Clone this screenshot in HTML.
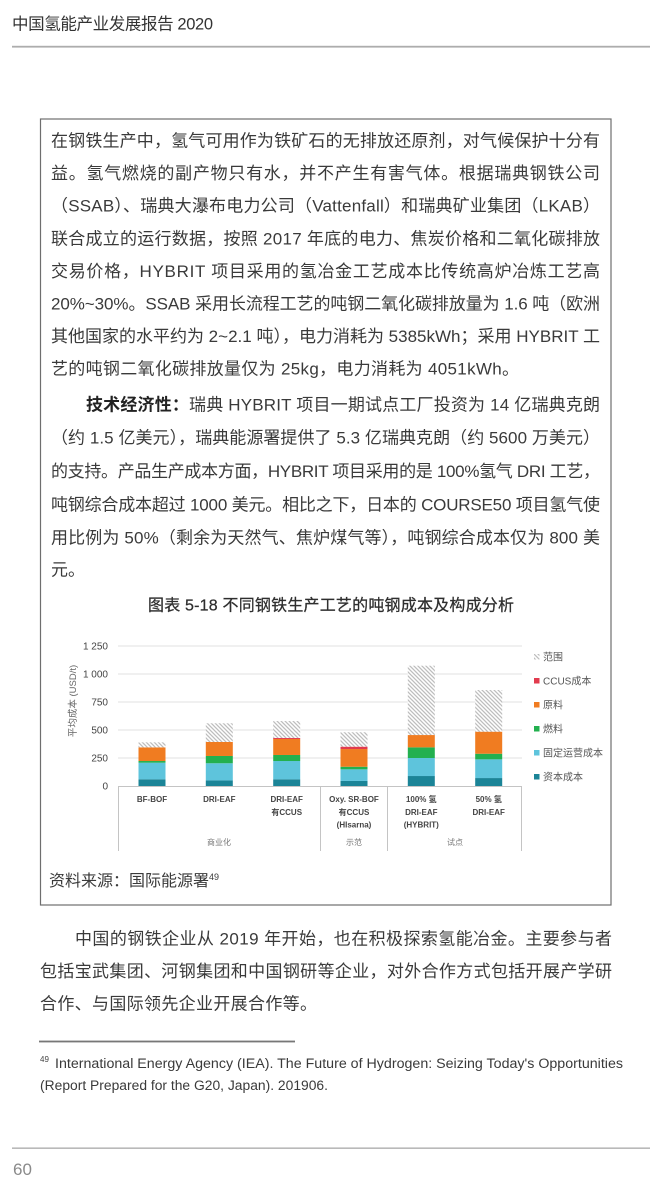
<!DOCTYPE html>
<html>
<head>
<meta charset="utf-8">
<style>
html,body{margin:0;padding:0;background:#fff;}
svg{display:block;}
.t{font-family:"Liberation Sans","Noto Sans CJK SC",sans-serif;font-size:17px;fill:#3a3a3a;}
.c{font-family:"Liberation Sans","Noto Sans CJK SC",sans-serif;}
</style>
</head>
<body>
<svg width="650" height="1190" viewBox="0 0 650 1190" xmlns="http://www.w3.org/2000/svg">
<defs>
<pattern id="h" patternUnits="userSpaceOnUse" width="4" height="4">
<rect width="4" height="4" fill="#fff"/>
<path d="M-1,-1 L5,5 M-1,3 L1,5 M3,-1 L5,1" stroke="#bdbdbd" stroke-width="1.3"/>
</pattern>
</defs>

<!-- header -->
<text class="c" x="12" y="29.5" font-size="16.5" fill="#333" textLength="201" lengthAdjust="spacing">中国氢能产业发展报告 2020</text>
<rect x="12" y="45.8" width="638" height="1.8" fill="#adadad"/>

<!-- box -->
<rect x="40.5" y="119" width="570.5" height="786" fill="none" stroke="#6e6e6e" stroke-width="1.2"/>

<!-- paragraph 1 -->
<text class="t" x="51" y="146.5" textLength="549" lengthAdjust="spacing">在钢铁生产中，氢气可用作为铁矿石的无排放还原剂，对气候保护十分有</text>
<text class="t" x="51" y="179.1" textLength="549" lengthAdjust="spacing">益。氢气燃烧的副产物只有水，并不产生有害气体。根据瑞典钢铁公司</text>
<text class="t" x="51" y="211.7" textLength="549" lengthAdjust="spacing">（SSAB）、瑞典大瀑布电力公司（Vattenfall）和瑞典矿业集团（LKAB）</text>
<text class="t" x="51" y="244.3" textLength="549" lengthAdjust="spacing">联合成立的运行数据，按照 2017 年底的电力、焦炭价格和二氧化碳排放</text>
<text class="t" x="51" y="276.9" textLength="549" lengthAdjust="spacing">交易价格，HYBRIT 项目采用的氢冶金工艺成本比传统高炉冶炼工艺高</text>
<text class="t" x="51" y="309.5" textLength="549" lengthAdjust="spacing">20%~30%。SSAB 采用长流程工艺的吨钢二氧化碳排放量为 1.6 吨（欧洲</text>
<text class="t" x="51" y="342.1" textLength="549" lengthAdjust="spacing">其他国家的水平约为 2~2.1 吨），电力消耗为 5385kWh；采用 HYBRIT 工</text>
<text class="t" x="51" y="374.7" textLength="468" lengthAdjust="spacing">艺的吨钢二氧化碳排放量仅为 25kg，电力消耗为 4051kWh。</text>

<!-- paragraph 2 -->
<text class="t" x="86" y="410.5" textLength="514" lengthAdjust="spacing"><tspan font-weight="bold" fill="#222">技术经济性：</tspan>瑞典 HYBRIT 项目一期试点工厂投资为 14 亿瑞典克朗</text>
<text class="t" x="51" y="443.5" textLength="549" lengthAdjust="spacing">（约 1.5 亿美元），瑞典能源署提供了 5.3 亿瑞典克朗（约 5600 万美元）</text>
<text class="t" x="51" y="477" textLength="549" lengthAdjust="spacing">的支持。产品生产成本方面，HYBRIT 项目采用的是 100%氢气 DRI 工艺，</text>
<text class="t" x="51" y="510.5" textLength="549" lengthAdjust="spacing">吨钢综合成本超过 1000 美元。相比之下，日本的 COURSE50 项目氢气使</text>
<text class="t" x="51" y="543.5" textLength="549" lengthAdjust="spacing">用比例为 50%（剩余为天然气、焦炉煤气等），吨钢综合成本仅为 800 美</text>
<text class="t" x="51" y="575.5">元。</text>

<!-- chart title -->
<text class="c" x="331" y="610.5" font-size="16" fill="#2e2e2e" text-anchor="middle" stroke="#2e2e2e" stroke-width="0.25" textLength="366" lengthAdjust="spacing">图表 5-18  不同钢铁生产工艺的吨钢成本及构成分析</text>

<!-- chart gridlines -->
<g stroke="#e2e2e2" stroke-width="1">
<line x1="118" y1="646" x2="522" y2="646"/>
<line x1="118" y1="674" x2="522" y2="674"/>
<line x1="118" y1="702" x2="522" y2="702"/>
<line x1="118" y1="730" x2="522" y2="730"/>
<line x1="118" y1="758" x2="522" y2="758"/>
</g>

<!-- y labels -->
<g class="c" font-size="10" fill="#444" text-anchor="end">
<text x="108" y="649.5">1 250</text>
<text x="108" y="677.5">1 000</text>
<text x="108" y="705.5">750</text>
<text x="108" y="733.5">500</text>
<text x="108" y="761.5">250</text>
<text x="108" y="789.5">0</text>
</g>
<text class="c" transform="translate(76,701) rotate(-90)" font-size="9.5" fill="#666" text-anchor="middle">平均成本 (USD/t)</text>

<!-- bars -->
<g>
<rect x="138.5" y="779.28" width="27" height="6.72" fill="#1b8497"/>
<rect x="138.5" y="762.7" width="27" height="16.58" fill="#5ec4dc"/>
<rect x="138.5" y="761.02" width="27" height="1.68" fill="#23b04f"/>
<rect x="138.5" y="747.36" width="27" height="13.66" fill="#f07c21"/>
<rect x="138.5" y="742.32" width="27" height="5.04" fill="url(#h)"/>

<rect x="205.8" y="780.4" width="27" height="5.6" fill="#1b8497"/>
<rect x="205.8" y="763.26" width="27" height="17.14" fill="#5ec4dc"/>
<rect x="205.8" y="755.98" width="27" height="7.28" fill="#23b04f"/>
<rect x="205.8" y="741.98" width="27" height="14" fill="#f07c21"/>
<rect x="205.8" y="723.28" width="27" height="18.7" fill="url(#h)"/>

<rect x="273.2" y="779.28" width="27" height="6.72" fill="#1b8497"/>
<rect x="273.2" y="761.02" width="27" height="18.26" fill="#5ec4dc"/>
<rect x="273.2" y="754.98" width="27" height="6.05" fill="#23b04f"/>
<rect x="273.2" y="738.96" width="27" height="16.02" fill="#f07c21"/>
<rect x="273.2" y="737.96" width="27" height="1" fill="#e23b4e"/>
<rect x="273.2" y="721.04" width="27" height="16.92" fill="url(#h)"/>

<rect x="340.5" y="780.96" width="27" height="5.04" fill="#1b8497"/>
<rect x="340.5" y="769.31" width="27" height="11.65" fill="#5ec4dc"/>
<rect x="340.5" y="766.74" width="27" height="2.58" fill="#23b04f"/>
<rect x="340.5" y="749.04" width="27" height="17.7" fill="#f07c21"/>
<rect x="340.5" y="746.69" width="27" height="2.35" fill="#e23b4e"/>
<rect x="340.5" y="732.24" width="27" height="14.45" fill="url(#h)"/>

<rect x="407.8" y="776.03" width="27" height="9.97" fill="#1b8497"/>
<rect x="407.8" y="758" width="27" height="18.03" fill="#5ec4dc"/>
<rect x="407.8" y="747.36" width="27" height="10.64" fill="#23b04f"/>
<rect x="407.8" y="735.04" width="27" height="12.32" fill="#f07c21"/>
<rect x="407.8" y="665.71" width="27" height="69.33" fill="url(#h)"/>

<rect x="475.2" y="778.05" width="27" height="7.95" fill="#1b8497"/>
<rect x="475.2" y="759.34" width="27" height="18.71" fill="#5ec4dc"/>
<rect x="475.2" y="753.74" width="27" height="5.6" fill="#23b04f"/>
<rect x="475.2" y="731.68" width="27" height="22.06" fill="#f07c21"/>
<rect x="475.2" y="690.02" width="27" height="41.66" fill="url(#h)"/>
</g>

<!-- axis & category box -->
<g stroke="#c4c4c4" stroke-width="1">
<line x1="118" y1="786.5" x2="522" y2="786.5"/>
<line x1="118.5" y1="786" x2="118.5" y2="851"/>
<line x1="320.5" y1="786" x2="320.5" y2="851"/>
<line x1="387.5" y1="786" x2="387.5" y2="851"/>
<line x1="521.5" y1="786" x2="521.5" y2="851"/>
</g>

<!-- category labels -->
<g class="c" font-size="8" fill="#444" text-anchor="middle" font-weight="bold">
<text x="152" y="802">BF-BOF</text>
<text x="219.3" y="802">DRI-EAF</text>
<text x="286.7" y="802">DRI-EAF</text>
<text x="286.7" y="815">有CCUS</text>
<text x="354" y="802">Oxy. SR-BOF</text>
<text x="354" y="815">有CCUS</text>
<text x="354" y="827.5">(HIsarna)</text>
<text x="421.3" y="802">100% 氢</text>
<text x="421.3" y="815">DRI-EAF</text>
<text x="421.3" y="827.5">(HYBRIT)</text>
<text x="488.7" y="802">50% 氢</text>
<text x="488.7" y="815">DRI-EAF</text>
</g>
<g class="c" font-size="8" fill="#777" text-anchor="middle">
<text x="219" y="845">商业化</text>
<text x="354" y="845">示范</text>
<text x="455" y="845">试点</text>
</g>

<!-- legend -->
<g>
<rect x="534" y="654" width="5.5" height="5.5" fill="url(#h)"/>
<rect x="534" y="678" width="5.5" height="5.5" fill="#e23b4e"/>
<rect x="534" y="702" width="5.5" height="5.5" fill="#f07c21"/>
<rect x="534" y="726" width="5.5" height="5.5" fill="#23b04f"/>
<rect x="534" y="750" width="5.5" height="5.5" fill="#5ec4dc"/>
<rect x="534" y="774" width="5.5" height="5.5" fill="#1b8497"/>
</g>
<g class="c" font-size="10" fill="#555">
<text x="543" y="660.5">范围</text>
<text x="543" y="684.5">CCUS成本</text>
<text x="543" y="708.5">原料</text>
<text x="543" y="732.5">燃料</text>
<text x="543" y="756.5">固定运营成本</text>
<text x="543" y="780.5">资本成本</text>
</g>

<!-- source -->
<text class="c" x="49" y="886" font-size="16" fill="#3a3a3a">资料来源：国际能源署<tspan font-size="9" dy="-6">49</tspan></text>

<!-- bottom paragraph -->
<text class="t" x="75" y="944.5" textLength="537" lengthAdjust="spacing">中国的钢铁企业从 2019 年开始，也在积极探索氢能冶金。主要参与者</text>
<text class="t" x="40" y="977" textLength="572" lengthAdjust="spacing">包括宝武集团、河钢集团和中国钢研等企业，对外合作方式包括开展产学研</text>
<text class="t" x="40" y="1009.5" textLength="277" lengthAdjust="spacing">合作、与国际领先企业开展合作等。</text>

<!-- footnote -->
<rect x="39" y="1040.6" width="256" height="1.8" fill="#777"/>
<text class="c" x="40" y="1062" font-size="8" fill="#444">49</text>
<text class="c" x="55" y="1068" font-size="13.5" fill="#3a3a3a" textLength="568" lengthAdjust="spacingAndGlyphs">International Energy Agency (IEA). The Future of Hydrogen: Seizing Today's Opportunities</text>
<text class="c" x="40" y="1090" font-size="13.5" fill="#3a3a3a" textLength="288" lengthAdjust="spacingAndGlyphs">(Report Prepared for the G20, Japan). 201906.</text>

<!-- footer -->
<rect x="12" y="1147.5" width="638" height="1.3" fill="#a8a8a8"/>
<text class="c" x="13" y="1175" font-size="17" fill="#8a8a8a">60</text>
</svg>
</body>
</html>
